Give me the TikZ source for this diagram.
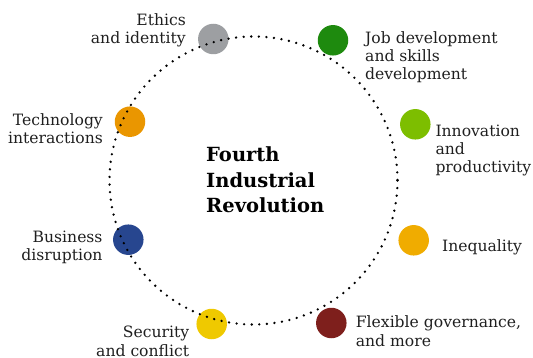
\documentclass[tikz,border=0pt]{standalone}
\usepackage{fontspec}
\setmainfont{DejaVu Serif}
\usetikzlibrary{positioning}

\definecolor{ethgray}{HTML}{9D9FA2}
\definecolor{techorange}{HTML}{EA9600}
\definecolor{jobgreen}{HTML}{1E8A0E}
\definecolor{innogreen}{HTML}{7DBE00}
\definecolor{inequorange}{HTML}{F0AC00}
\definecolor{govred}{HTML}{7E1F1C}
\definecolor{secyellow}{HTML}{EFC900}
\definecolor{busblue}{HTML}{27468F}

\begin{document}
\begin{tikzpicture}[x=1pt, y=-1pt,
    spot/.style={circle, minimum size=30.5pt, inner sep=0pt},
    lbl/.style={inner sep=0pt, text=black!88, font=\fontsize{15.6}{18.2}\selectfont},
    ring/.style={line width=2.6pt, line cap=round, dash pattern=on 0pt off 7.6pt}]
    \useasboundingbox (0,0) rectangle (533,358);
    \coordinate (hub) at (253.5,180.5);

    \node (eth)  [spot, fill=ethgray]     at (213.3,39)    {};
    \node (tech) [spot, fill=techorange]  at (130,121.7)   {};
    \node (job)  [spot, fill=jobgreen]    at (333,40.3)    {};
    \node (inno) [spot, fill=innogreen]   at (415.3,124.3) {};
    \node (ineq) [spot, fill=inequorange] at (413.7,240.3) {};
    \node (gov)  [spot, fill=govred]      at (331.3,323)   {};
    \node (sec)  [spot, fill=secyellow]   at (211.7,324)   {};
    \node (bus)  [spot, fill=busblue]     at (128.3,239.7) {};

    \draw [ring] (hub) circle [radius=144];

    \node (ethl)  [lbl, align=right, anchor=base east] at (186,44)      {Ethics\\and identity};
    \node (techl) [lbl, align=right, anchor=base east] at (103,144)     {Technology\\interactions};
    \node (jobl)  [lbl, align=left,  anchor=base west] at (365,80)      {Job development\\and skills\\development};
    \node (innol) [lbl, align=left,  anchor=base west] at (435.3,173)   {Innovation\\and\\productivity};
    \node (ineql) [lbl, anchor=base west]              at (442,252)     {Inequality};
    \node (govl)  [lbl, align=left,  anchor=base west] at (355.7,346)   {Flexible governance,\\and more};
    \node (secl)  [lbl, align=right, anchor=base east] at (189.3,356)   {Security\\and conflict};
    \node (busl)  [lbl, align=right, anchor=base east] at (102.7,260.7) {Business\\disruption};

    \node (title) [inner sep=0pt, align=left, anchor=base west,
        font=\bfseries\fontsize{19.5}{25.6}\selectfont] at (206,213)
        {Fourth\\Industrial\\Revolution};
\end{tikzpicture}
\end{document}
